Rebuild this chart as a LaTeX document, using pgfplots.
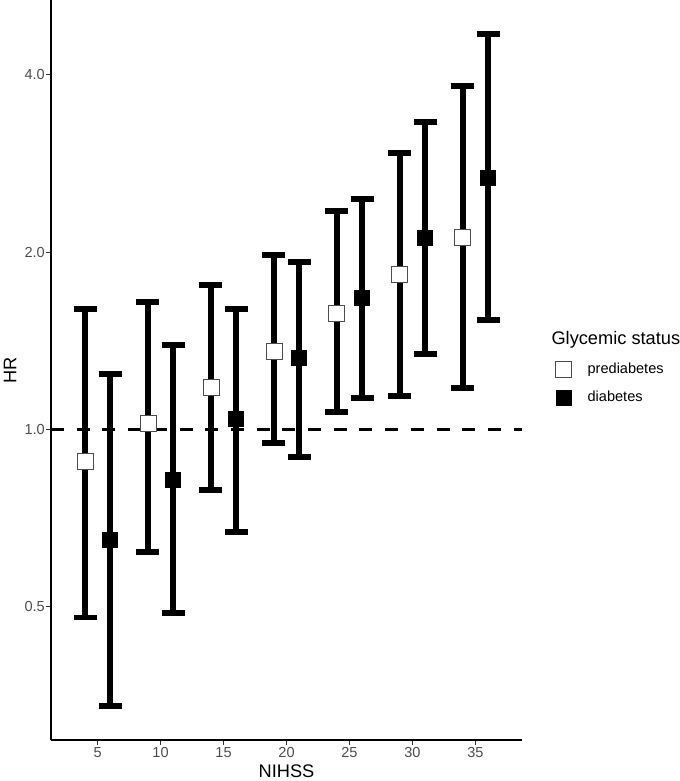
\documentclass[border=0pt]{standalone}
\usepackage{pgfplots}
\usepackage{pgfplotstable}
\pgfplotsset{compat=1.18}
\usepackage{fontspec}
\setmainfont{Liberation Sans}
\definecolor{grey20}{HTML}{333333}
\definecolor{grey30}{HTML}{4D4D4D}

% HR with 95% CI
\pgfplotstableread{
x  y     lo    hi
4  0.881 0.479 1.602
9  1.022 0.619 1.646
14 1.181 0.789 1.759
19 1.359 0.949 1.978
24 1.577 1.071 2.350
29 1.837 1.140 2.947
34 2.122 1.176 3.830
}\prediabetes
\pgfplotstableread{
x  y     lo    hi
6  0.649 0.339 1.242
11 0.821 0.488 1.392
16 1.042 0.670 1.602
21 1.322 0.898 1.925
26 1.672 1.131 2.462
31 2.114 1.343 3.328
36 2.673 1.534 4.693
}\diabetes

\begin{document}
\begin{tikzpicture}
\useasboundingbox (-51bp,-41bp) rectangle (629bp,740bp);
\begin{axis}[
    at={(0,0)}, anchor=south west,
    scale only axis, width=471bp, height=740bp,
    xmin=1.3, xmax=38.7,
    ymode=log, log basis y=2,
    ymin=0.297, ymax=5.36,
    xtick={5,10,...,35},
    ytick={0.5,1,2,4}, yticklabels={0.5,1.0,2.0,4.0},
    minor tick num=0, yminorticks=false,
    axis x line*=bottom, axis y line*=left,
    axis line style={line width=1.1bp, -},
    tick align=outside, major tick length=4.5bp,
    every tick/.style={grey20, line width=1.1bp},
    ticklabel style={font=\fontsize{14.6}{16}\selectfont, text=grey30},
    yticklabel style={inner sep=1.5bp},
    xticklabel style={inner sep=3bp},
    /pgf/number format/assume math mode=true,
    xlabel={NIHSS}, ylabel={HR},
    label style={font=\fontsize{18.3}{20}\selectfont},
    xlabel style={at={(axis description cs:0.5,-0.0425)}, anchor=center},
    ylabel style={at={(axis description cs:-0.087,0.5)}, anchor=center},
    legend style={draw=none, fill=none, inner sep=0pt, anchor=west,
        at={(1.071,0.4818)}, font=\fontsize{14.6}{16}\selectfont,
        nodes={inner sep=0pt, text height=11bp, text depth=3bp},
        row sep=13bp,
        /tikz/every odd column/.append style={column sep=16bp}},
    legend cell align=left,
]

% reference line at HR = 1
\addplot[forget plot, black, line width=3.2bp, dash pattern=on 13bp off 12.7bp]
    coordinates {(1.3,1) (38.7,1)};

% error bars
\addplot[forget plot, only marks, mark=none,
    error bars/.cd, y dir=both, y explicit,
    error bar style={line width=5.5bp, black},
    error mark options={rotate=90, line width=5.5bp, mark size=11.5bp, black}]
    table[x=x, y=y, y error plus expr=\thisrow{hi}-\thisrow{y},
          y error minus expr=\thisrow{y}-\thisrow{lo}] {\prediabetes};
\addplot[forget plot, only marks, mark=none,
    error bars/.cd, y dir=both, y explicit,
    error bar style={line width=5.5bp, black},
    error mark options={rotate=90, line width=5.5bp, mark size=11.5bp, black}]
    table[x=x, y=y, y error plus expr=\thisrow{hi}-\thisrow{y},
          y error minus expr=\thisrow{y}-\thisrow{lo}] {\diabetes};

% point estimates
\addplot[only marks, mark=square*, mark size=8bp,
    mark options={fill=white, draw=black!70, line width=0.8bp}]
    table[x=x, y=y] {\prediabetes};
\addlegendentry{prediabetes}
\addplot[only marks, mark=square*, mark size=7.5bp, black]
    table[x=x, y=y] {\diabetes};
\addlegendentry{diabetes}
\end{axis}

\node[anchor=base west, font=\fontsize{18.3}{20}\selectfont]
    at (497bp,395bp) {Glycemic status};
\end{tikzpicture}
\end{document}
